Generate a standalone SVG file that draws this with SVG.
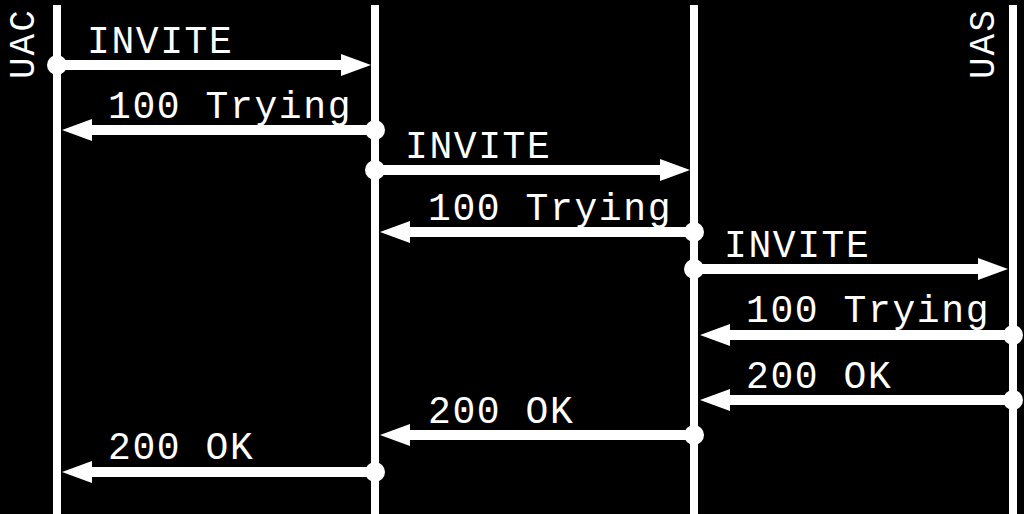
<svg xmlns="http://www.w3.org/2000/svg" width="1024" height="514" viewBox="0 0 1024 514">
<style>
.life{stroke:#fff;stroke-width:8}
.msg{stroke:#fff;stroke-width:10;marker-end:url(#ah)}
.dot{fill:#fff}
.lbl{fill:#fff;font-family:"Liberation Mono","Courier New",monospace;font-size:38px;letter-spacing:1.6px}
.actor{fill:#fff;font-family:"Liberation Mono","Courier New",monospace;font-size:36px;letter-spacing:2px}
</style>
<defs>
<marker id="ah" markerUnits="userSpaceOnUse" markerWidth="32" markerHeight="24" refX="10" refY="12" orient="auto" viewBox="0 0 32 24">
<path d="M0,1 L30,12 L0,23 z" fill="#fff"/>
</marker>
</defs>
<rect width="1024" height="514" fill="#000"/>
<g id="uac">
<line class="life" x1="57" y1="5" x2="57" y2="514"/>
<text class="actor" transform="translate(34,79) rotate(-90)">UAC</text>
</g>
<g id="proxy1">
<line class="life" x1="375" y1="5" x2="375" y2="514"/>
</g>
<g id="proxy2">
<line class="life" x1="694" y1="5" x2="694" y2="514"/>
</g>
<g id="uas">
<line class="life" x1="1013" y1="5" x2="1013" y2="514"/>
<text class="actor" transform="translate(994,79) rotate(-90)">UAS</text>
</g>
<g id="connectors">
<line class="msg" x1="57" y1="65" x2="351" y2="65"/><circle class="dot" cx="57" cy="65" r="10"/>
<text class="lbl" x="87" y="53">INVITE</text>
<line class="msg" x1="375" y1="130" x2="82" y2="130"/><circle class="dot" cx="375" cy="130" r="10"/>
<text class="lbl" x="108" y="118">100 Trying</text>
<line class="msg" x1="375" y1="170" x2="670" y2="170"/><circle class="dot" cx="375" cy="170" r="10"/>
<text class="lbl" x="405" y="158">INVITE</text>
<line class="msg" x1="694" y1="232" x2="400" y2="232"/><circle class="dot" cx="694" cy="232" r="10"/>
<text class="lbl" x="428" y="220">100 Trying</text>
<line class="msg" x1="694" y1="269" x2="988" y2="269"/><circle class="dot" cx="694" cy="269" r="10"/>
<text class="lbl" x="724" y="257">INVITE</text>
<line class="msg" x1="1013" y1="335" x2="720" y2="335"/><circle class="dot" cx="1013" cy="335" r="10"/>
<text class="lbl" x="746" y="322">100 Trying</text>
<line class="msg" x1="1013" y1="400" x2="720" y2="400"/><circle class="dot" cx="1013" cy="400" r="10"/>
<text class="lbl" x="746" y="388">200 OK</text>
<line class="msg" x1="694" y1="435" x2="400" y2="435"/><circle class="dot" cx="694" cy="435" r="10"/>
<text class="lbl" x="428" y="423">200 OK</text>
<line class="msg" x1="375" y1="472" x2="82" y2="472"/><circle class="dot" cx="375" cy="472" r="10"/>
<text class="lbl" x="108" y="459">200 OK</text>
</g>
</svg>
